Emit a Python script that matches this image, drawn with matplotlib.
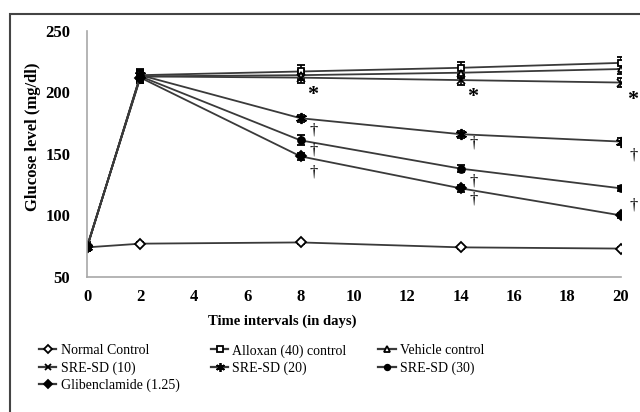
import matplotlib.pyplot as plt
from matplotlib.lines import Line2D
from matplotlib.patches import Rectangle

days = [0, 2, 8, 14, 20]

normal = [74, 77, 78, 74, 73]
alloxan = [74, 214, 217, 220, 224]
vehicle = [74, 213, 214, 216, 219]
sre10 = [74, 213, 212, 210, 208]
sre20 = [74, 214, 179, 166, 160]
sre30 = [74, 213, 161, 138, 122]
glib = [75, 212, 148, 122, 100]

normal_err = [1, 1, 1, 1, 1]
alloxan_err = [3, 5, 5, 5, 5]
vehicle_err = [3, 5, 4, 4, 4]
sre10_err = [3, 5, 4, 4, 4]
sre20_err = [3, 4, 3, 3, 3]
sre30_err = [3, 4, 4, 3, 2]
glib_err = [3, 4, 3, 3, 2]

labels = ["Normal Control", "Alloxan (40) control", "Vehicle control",
          "SRE-SD (10)", "SRE-SD (20)", "SRE-SD (30)", "Glibenclamide (1.25)"]

# * vs vehicle (placed beside SRE-SD 10), dagger vs alloxan
star_days = [8, 14, 20]
dagger_marks = [  # (day, series, vertical offset in px below the point)
    (8, sre20, 12), (8, sre30, 10), (8, glib, 16),
    (14, sre20, 9), (14, sre30, 13), (14, glib, 11),
    (20, sre20, 14), (20, sre30, 17),
]

plt.rcParams['font.family'] = ['Liberation Serif', 'DejaVu Serif']

fig = plt.figure(figsize=(6.4, 4.12), dpi=100)
ax = fig.add_axes([0.136, 0.328, 0.834, 0.597])

line_col = '#3a3a3a'
series = [
    (normal, normal_err, 'D', 'white', 5),
    (alloxan, alloxan_err, 's', 'white', 5),
    (vehicle, vehicle_err, '^', 'white', 5),
    (sre10, sre10_err, 'x', 'black', 6),
    (sre20, sre20_err, (6, 2, 0), 'black', 8),
    (sre30, sre30_err, 'o', 'black', 5),
    (glib, glib_err, 'D', 'black', 5),
]
handles = []
for (vals, err, mk, fc, ms), lab in zip(series, labels):
    style = dict(color=line_col, marker=mk, mfc=fc, mec='black', mew=1.3)
    ax.errorbar(days, vals, yerr=err, lw=1.3, ms=ms, ecolor='black', elinewidth=1.2,
                capsize=3, capthick=1.2, **style)
    handles.append(Line2D([], [], lw=1.6, ms=ms * 0.8, **style))

px = 72 / 100
for d in star_days:
    v = sre10[days.index(d)]
    ax.annotate('*', (d, v), xytext=(12 * px, -17 * px), textcoords='offset points',
                fontsize=16, ha='center', va='center', fontweight='bold')
for d, vals, dy in dagger_marks:
    v = vals[days.index(d)]
    ax.annotate('\u2020', (d, v), xytext=(13 * px, -dy * px), textcoords='offset points',
                fontsize=12, ha='center', va='center')

ax.set_xlim(0, 20)
ax.set_ylim(50, 250)
ax.set_xticks(range(0, 21, 2))
ax.set_yticks(range(50, 251, 50))
ax.tick_params(length=0, labelsize=12)
ax.tick_params(axis='y', pad=12)
ax.tick_params(axis='x', pad=9)
for t in ax.get_xticklabels() + ax.get_yticklabels():
    t.set_fontweight('bold')
for s in ['top', 'right']:
    ax.spines[s].set_visible(False)
for s in ['left', 'bottom']:
    ax.spines[s].set_color('#a8a8a8')
    ax.spines[s].set_linewidth(1.2)

ax.set_xlabel('Time intervals (in days)', fontsize=10.5, fontweight='bold')
ax.set_ylabel('Glucose level (mg/dl)', fontsize=12, fontweight='bold')
ax.xaxis.set_label_coords(0.365, -0.152)
ax.yaxis.set_label_coords(-0.086, 0.57)

order = [0, 3, 6, 1, 4, 2, 5]
fig.legend([handles[i] for i in order], [labels[i] for i in order],
           loc='upper left', bbox_to_anchor=(0.061, 0.165), ncol=3, frameon=False,
           fontsize=10, handlelength=1.25, handletextpad=0.3, columnspacing=2.27,
           labelspacing=0.28, borderaxespad=0, borderpad=0)

fig.patches.append(Rectangle((10 / 640, -0.1), 1.2, 1 - 14 / 412 + 0.1,
                             transform=fig.transFigure, fill=False,
                             edgecolor='#444444', lw=1.5))

fig.savefig('out.png', dpi=100)
